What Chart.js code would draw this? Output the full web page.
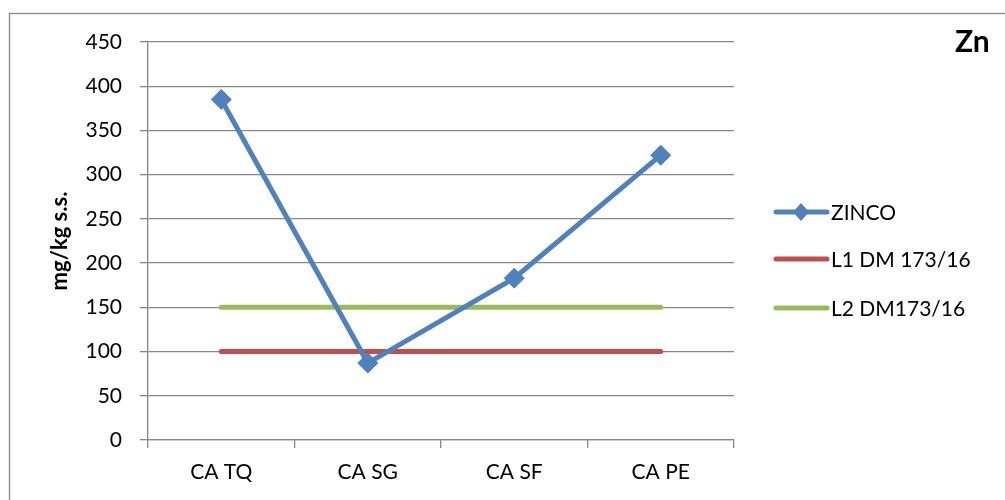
<!DOCTYPE html>
<html>
<head>
<meta charset="utf-8">
<script src="https://cdn.jsdelivr.net/npm/chart.js@4.4.1/dist/chart.umd.min.js"></script>
<style>
  html, body { margin: 0; padding: 0; background: #fff; }
  #wrap { width: 1005px; height: 500px; position: relative; }
</style>
</head>
<body>
<div id="wrap"><canvas id="c" width="1005" height="500"></canvas></div>
<script>
// Sampling sites and zinc concentration (mg/kg dry matter)
const categories = ['CA TQ', 'CA SG', 'CA SF', 'CA PE'];
const zinco = [385, 87, 183, 322];
// Regulatory limits DM 173/16
const limitL1 = [100, 100, 100, 100];
const limitL2 = [150, 150, 150, 150];
const yTicks = [0, 50, 100, 150, 200, 250, 300, 350, 400, 450];

const FONT = 'Lato, "Open Sans", sans-serif';
const GRID = '#878787';

// Outer frame, title and right-hand legend
const decorations = {
  id: 'decorations',
  afterDraw(chart) {
    const ctx = chart.ctx;
    ctx.save();
    ctx.strokeStyle = GRID;
    ctx.lineWidth = 1.3;
    ctx.strokeRect(9.5, 13.5, 3000, 3000);

    ctx.fillStyle = '#000';
    ctx.font = 'bold 30px ' + FONT;
    ctx.textAlign = 'left';
    ctx.textBaseline = 'middle';
    ctx.fillText('Zn', 955, 42);

    const rows = [212, 259, 308];
    ctx.font = '21px ' + FONT;
    chart.data.datasets.forEach((ds, i) => {
      const y = rows[i];
      ctx.strokeStyle = ds.borderColor;
      ctx.lineWidth = 5;
      ctx.lineCap = 'round';
      ctx.beginPath();
      ctx.moveTo(776, y);
      ctx.lineTo(827, y);
      ctx.stroke();
      if (ds.pointRadius > 0) {
        ctx.fillStyle = ds.borderColor;
        ctx.beginPath();
        ctx.moveTo(801, y - 9);
        ctx.lineTo(809, y);
        ctx.lineTo(801, y + 9);
        ctx.lineTo(793, y);
        ctx.closePath();
        ctx.fill();
      }
      ctx.fillStyle = '#000';
      ctx.fillText(ds.label, 831, y + 1);
    });
    ctx.restore();
  }
};

new Chart(document.getElementById('c'), {
  type: 'line',
  data: {
    labels: categories,
    datasets: [
      {
        label: 'ZINCO',
        data: zinco,
        borderColor: '#4F81BD',
        backgroundColor: '#4F81BD',
        borderWidth: 5,
        pointStyle: 'rectRot',
        pointRadius: 10,
        pointBorderWidth: 1,
        pointHoverRadius: 10,
        tension: 0,
        order: 0
      },
      {
        label: 'L1 DM 173/16',
        data: limitL1,
        borderColor: '#C0504D',
        backgroundColor: '#C0504D',
        borderWidth: 5,
        borderCapStyle: 'round',
        pointRadius: 0,
        order: 2
      },
      {
        label: 'L2 DM173/16',
        data: limitL2,
        borderColor: '#9BBB59',
        backgroundColor: '#9BBB59',
        borderWidth: 5,
        borderCapStyle: 'round',
        pointRadius: 0,
        order: 1
      }
    ]
  },
  options: {
    responsive: false,
    animation: false,
    layout: { padding: { left: 0, top: 42, right: 271, bottom: 0 } },
    plugins: {
      legend: { display: false },
      title: { display: false },
      tooltip: { enabled: false }
    },
    scales: {
      x: {
        type: 'category',
        offset: true,
        grid: {
          offset: true,
          drawOnChartArea: false,
          color: GRID,
          lineWidth: 1.3,
          tickLength: 8
        },
        border: { color: GRID, width: 1.3 },
        ticks: {
          color: '#000',
          font: { family: FONT, size: 21 },
          padding: 12,
          maxRotation: 0
        },
        afterFit(scale) { scale.height = 60; }
      },
      y: {
        min: 0,
        max: 450,
        afterBuildTicks(scale) { scale.ticks = yTicks.map(v => ({ value: v })); },
        grid: { color: GRID, lineWidth: 1.3, tickLength: 8 },
        border: { color: GRID, width: 1.3 },
        ticks: {
          color: '#000',
          font: { family: FONT, size: 21 },
          padding: 18
        },
        title: {
          display: true,
          text: 'mg/kg s.s.',
          color: '#000',
          font: { family: FONT, size: 22, weight: 'bold' },
          padding: { top: 47, bottom: 0 }
        },
        afterFit(scale) { scale.width = 148; }
      }
    }
  },
  plugins: [decorations]
});
</script>
</body>
</html>
